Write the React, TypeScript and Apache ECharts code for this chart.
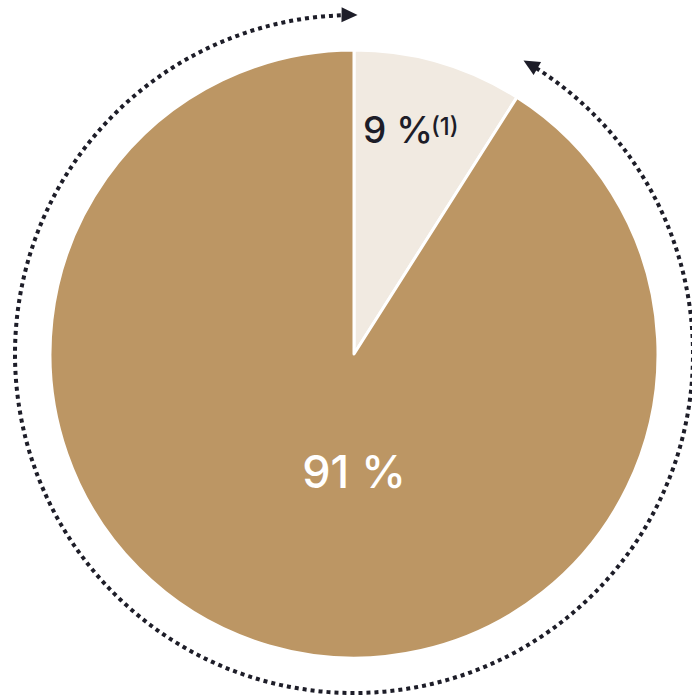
import React, { useEffect, useRef } from "react";
import * as echarts from "echarts";

const categories = ["Part A", "Part B"];
const values = [9, 91];
const labels = ["9 %", "91 %"];
const footnote = "(1)";
const colors = ["#F1EAE1", "#BC9664"];

const W = 692;
const H = 697;
const CX = 354;
const CY = 354;
const PIE_R = 304;
const ARC_R = 339;
const DARK = "#1D1D28";

const rad = (d: number) => (d * Math.PI) / 180;

function arrowHead(thetaDeg: number, forward: boolean) {
  const t = rad(thetaDeg);
  const tip = [CX + ARC_R * Math.cos(t), CY + ARC_R * Math.sin(t)];
  const tx = forward ? -Math.sin(t) : Math.sin(t);
  const ty = forward ? Math.cos(t) : -Math.cos(t);
  const nx = Math.cos(t);
  const ny = Math.sin(t);
  const L = 16;
  const hw = 7.5;
  const bx = tip[0] - L * tx;
  const by = tip[1] - L * ty;
  return [tip, [bx + hw * nx, by + hw * ny], [bx - hw * nx, by - hw * ny]];
}

export default function App() {
  const ref = useRef<HTMLDivElement>(null);
  useEffect(() => {
    if (!ref.current) return;
    const chart = echarts.init(ref.current, null, { renderer: "svg" });
    chart.setOption({
      animation: false,
      series: [
        {
          type: "pie",
          center: [CX, CY],
          radius: [0, PIE_R],
          startAngle: 90,
          clockwise: true,
          silent: true,
          z: 2,
          label: { show: false },
          labelLine: { show: false },
          emphasis: { disabled: true },
          itemStyle: { borderColor: "#ffffff", borderWidth: 3 },
          data: categories.map((c, i) => ({
            name: c,
            value: values[i],
            itemStyle: { color: colors[i] },
          })),
        },
      ],
      graphic: [
        {
          type: "arc",
          silent: true,
          z: 100,
          shape: {
            cx: CX,
            cy: CY,
            r: ARC_R,
            startAngle: rad(-57.5),
            endAngle: rad(267.8),
            clockwise: true,
          },
          style: { stroke: DARK, lineWidth: 4, lineDash: [4, 4], fill: null },
        },
        {
          type: "polygon",
          silent: true,
          z: 100,
          shape: { points: arrowHead(270.6, true) },
          style: { fill: DARK },
        },
        {
          type: "polygon",
          silent: true,
          z: 100,
          shape: { points: arrowHead(-60, false) },
          style: { fill: DARK },
        },
        {
          type: "text",
          silent: true,
          z: 100,
          x: CX,
          y: 471,
          style: {
            text: labels[1],
            fill: "#ffffff",
            fontFamily: "Inter",
            fontWeight: 500,
            fontSize: 45,
            align: "center",
            verticalAlign: "middle",
          },
        },
        {
          type: "text",
          silent: true,
          z: 100,
          x: 363,
          y: 129,
          style: {
            text: labels[0],
            fill: DARK,
            fontFamily: "Inter",
            fontWeight: 500,
            fontSize: 37,
            align: "left",
            verticalAlign: "middle",
          },
        },
        {
          type: "text",
          silent: true,
          z: 100,
          x: 431,
          y: 126,
          style: {
            text: footnote,
            fill: DARK,
            fontFamily: "Inter",
            fontWeight: 500,
            fontSize: 24,
            align: "left",
            verticalAlign: "middle",
          },
        },
      ],
    });
    return () => chart.dispose();
  }, []);
  return (
    <div
      ref={ref}
      style={{ position: "absolute", left: 0, top: 0, width: W, height: H }}
    />
  );
}
